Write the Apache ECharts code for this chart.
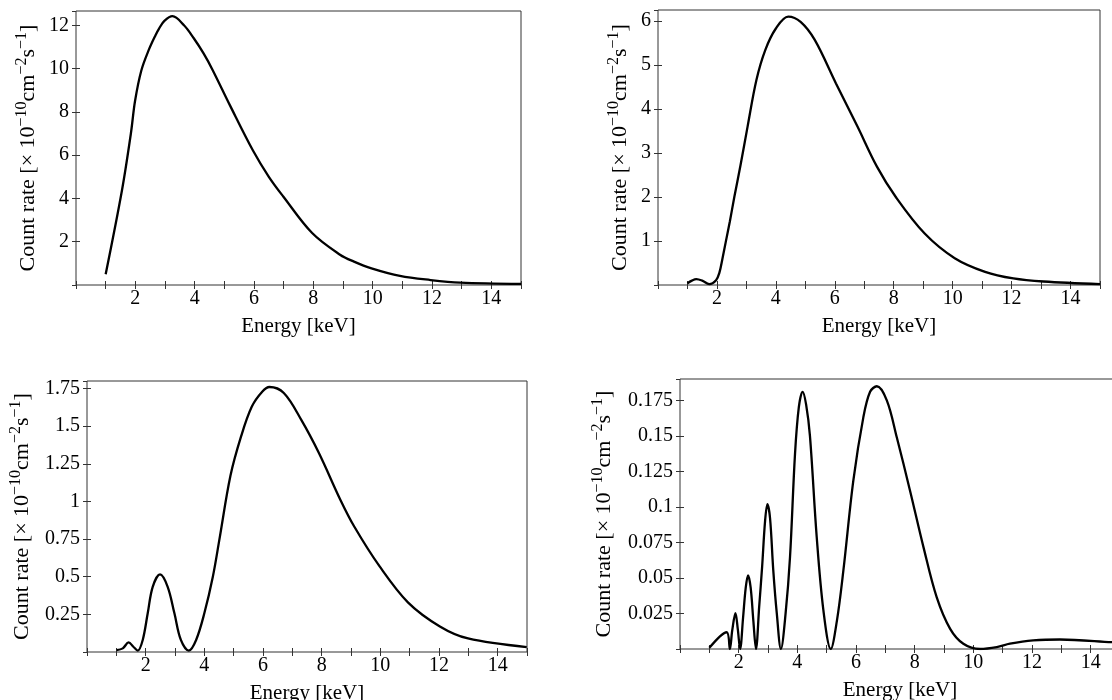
<!DOCTYPE html>
<html>
<head>
<meta charset="utf-8">
<script src="https://cdn.jsdelivr.net/npm/echarts@6/dist/echarts.min.js"></script>
<style>
    html, body { margin: 0; padding: 0; background: #fff; }
    #chart { width: 1112px; height: 700px; }
</style>
</head>
<body>
<div id="chart"></div>
<script>
// top left
var p1Energy = [1.0, 1.55, 1.85, 1.99, 2.2, 2.45, 2.68, 2.8, 2.98, 3.25, 3.64, 3.97, 4.3, 4.6, 5.19, 5.97, 6.5, 6.98, 7.96, 8.9, 9.37, 9.96, 10.92, 11.95, 12.95, 15.0];
var p1Rate = [0.5, 4.38, 7.0, 8.5, 9.9, 10.85, 11.54, 11.85, 12.2, 12.42, 12.0, 11.4, 10.7, 9.95, 8.3, 6.2, 5.0, 4.1, 2.4, 1.4, 1.08, 0.77, 0.42, 0.23, 0.11, 0.05];

// top right
var p2Energy = [1.0, 1.15, 1.3, 1.5, 1.74, 1.97, 2.08, 2.19, 2.3, 2.44, 2.59, 2.8, 3.04, 3.34, 3.64, 4.0, 4.42, 4.84, 5.32, 6.04, 6.77, 7.43, 8.07, 9.05, 10.07, 11.1, 12.06, 13.08, 15.0];
var p2Rate = [0.04, 0.1, 0.135, 0.1, 0.02, 0.11, 0.27, 0.61, 0.98, 1.45, 2.0, 2.72, 3.6, 4.66, 5.34, 5.83, 6.1, 5.98, 5.57, 4.58, 3.6, 2.69, 2.0, 1.17, 0.61, 0.30, 0.15, 0.08, 0.02];

// bottom left
var p3Energy = [1.01, 1.22, 1.42, 1.58, 1.73, 1.9, 2.07, 2.24, 2.49, 2.75, 2.98, 3.2, 3.47, 3.72, 4.0, 4.29, 4.51, 4.89, 5.25, 5.62, 5.98, 6.22, 6.71, 7.31, 7.91, 8.64, 9.12, 9.97, 10.94, 12.03, 12.99, 14.99];
var p3Rate = [0.013, 0.024, 0.064, 0.035, 0.009, 0.08, 0.257, 0.433, 0.515, 0.433, 0.257, 0.08, 0.009, 0.08, 0.257, 0.5, 0.743, 1.17, 1.43, 1.63, 1.73, 1.76, 1.72, 1.54, 1.32, 1.01, 0.83, 0.57, 0.33, 0.17, 0.09, 0.033];

// bottom right
var p4Energy = [1.0, 1.59, 1.7, 1.78, 1.89, 1.97, 2.05, 2.15, 2.24, 2.32, 2.41, 2.5, 2.59, 2.7, 2.8, 2.9, 2.98, 3.07, 3.18, 3.3, 3.44, 3.6, 3.75, 3.92, 4.05, 4.18, 4.3, 4.43, 4.66, 4.89, 5.14, 5.35, 5.57, 5.91, 6.25, 6.48, 6.71, 7.05, 7.39, 7.84, 8.3, 8.75, 9.21, 9.66, 10.23, 10.8, 11.25, 12.04, 12.95, 14.73, 15.0];
var p4Rate = [0.0008, 0.0118, 0, 0.013, 0.0252, 0.014, 0, 0.022, 0.043, 0.0518, 0.043, 0.02, 0, 0.03, 0.058, 0.09, 0.102, 0.092, 0.0553, 0.025, 0, 0.025, 0.0646, 0.137, 0.17, 0.181, 0.172, 0.15, 0.079, 0.027, 0, 0.02, 0.0553, 0.1187, 0.163, 0.181, 0.1849, 0.175, 0.149, 0.1116, 0.0717, 0.0365, 0.0142, 0.0037, 0, 0.0013, 0.0037, 0.006, 0.0067, 0.0048, 0.0045];

var yTickStep = [2, 1, 0.25, 0.025];
var yTop = [12.66, 6.25, 1.8, 0.19];

(function () {
    var font = 'Liberation Serif';
    var frame = '#333';
    var energies = [p1Energy, p2Energy, p3Energy, p4Energy];
    var rates = [p1Rate, p2Rate, p3Rate, p4Rate];

    // last panel runs past the right edge, as in the original crop
    var grids = [
        {left: 76, top: 11, width: 445, height: 274},
        {left: 658, top: 10, width: 442, height: 275},
        {left: 87, top: 381, width: 440, height: 271},
        {left: 680, top: 379, width: 440, height: 270}
    ];
    var yNameGap = [33, 23, 50, 61];
    var xNameGap = [31, 31, 31, 31];

    var yName = '{t|Count rate [\u00d7 10}{s|\u221210}{t|cm}{s|\u22122}{t|s}{s|\u22121}{t|]}';

    var xAxes = [], yAxes = [], series = [];
    grids.forEach(function (g, i) {
        g.show = true;
        g.borderColor = frame;
        g.borderWidth = 1;
        g.containLabel = false;
        g.outerBoundsMode = 'none';
        // bottom axis with labels
        xAxes.push({
            type: 'value', gridIndex: i, min: 0, max: 15, interval: 1,
            name: 'Energy [keV]', nameLocation: 'middle', nameGap: xNameGap[i],
            nameTextStyle: {fontFamily: font, fontSize: 21, color: '#000'},
            axisLine: {show: false},
            axisTick: {inside: true, length: 4, lineStyle: {color: frame}},
            splitLine: {show: false},
            axisLabel: {
                fontFamily: font, fontSize: 20, color: '#000', margin: 4,
                formatter: function (v) { return (v > 0 && v < 15 && v % 2 === 0) ? String(v) : ''; }
            }
        });
        // mirrored ticks on top
        xAxes.push({
            type: 'value', gridIndex: i, position: 'top', min: 0, max: 15, interval: 1,
            axisLine: {show: false}, axisLabel: {show: false}, splitLine: {show: false},
            axisTick: {inside: true, length: 4, lineStyle: {color: frame}}
        });
        yAxes.push({
            type: 'value', gridIndex: i, min: 0, max: yTop[i], interval: yTickStep[i],
            name: yName, nameLocation: 'middle', nameGap: yNameGap[i],
            nameTextStyle: {
                fontFamily: font, fontSize: 22, color: '#000',
                rich: {
                    t: {fontFamily: font, fontSize: 22, color: '#000'},
                    s: {fontFamily: font, fontSize: 16, color: '#000', padding: [0, 0, 13, 0]}
                }
            },
            axisLine: {show: false},
            axisTick: {inside: true, length: 4, lineStyle: {color: frame}},
            splitLine: {show: false},
            axisLabel: {fontFamily: font, fontSize: 20, color: '#000', margin: 7, showMinLabel: false, showMaxLabel: false}
        });
        yAxes.push({
            type: 'value', gridIndex: i, position: 'right', min: 0, max: yTop[i], interval: yTickStep[i],
            axisLine: {show: false}, axisLabel: {show: false}, splitLine: {show: false},
            axisTick: {inside: true, length: 4, lineStyle: {color: frame}}
        });
        series.push({
            type: 'line',
            xAxisIndex: i * 2, yAxisIndex: i * 2,
            data: energies[i].map(function (e, k) { return [e, rates[i][k]]; }),
            showSymbol: false, symbol: 'none',
            smooth: 0.35,
            lineStyle: {color: '#000', width: 2.3},
            clip: true, silent: true
        });
    });

    var chart = echarts.init(document.getElementById('chart'), null, {renderer: 'canvas'});
    chart.setOption({
        animation: false,
        backgroundColor: '#fff',
        grid: grids,
        xAxis: xAxes,
        yAxis: yAxes,
        series: series
    });
})();
</script>
</body>
</html>
